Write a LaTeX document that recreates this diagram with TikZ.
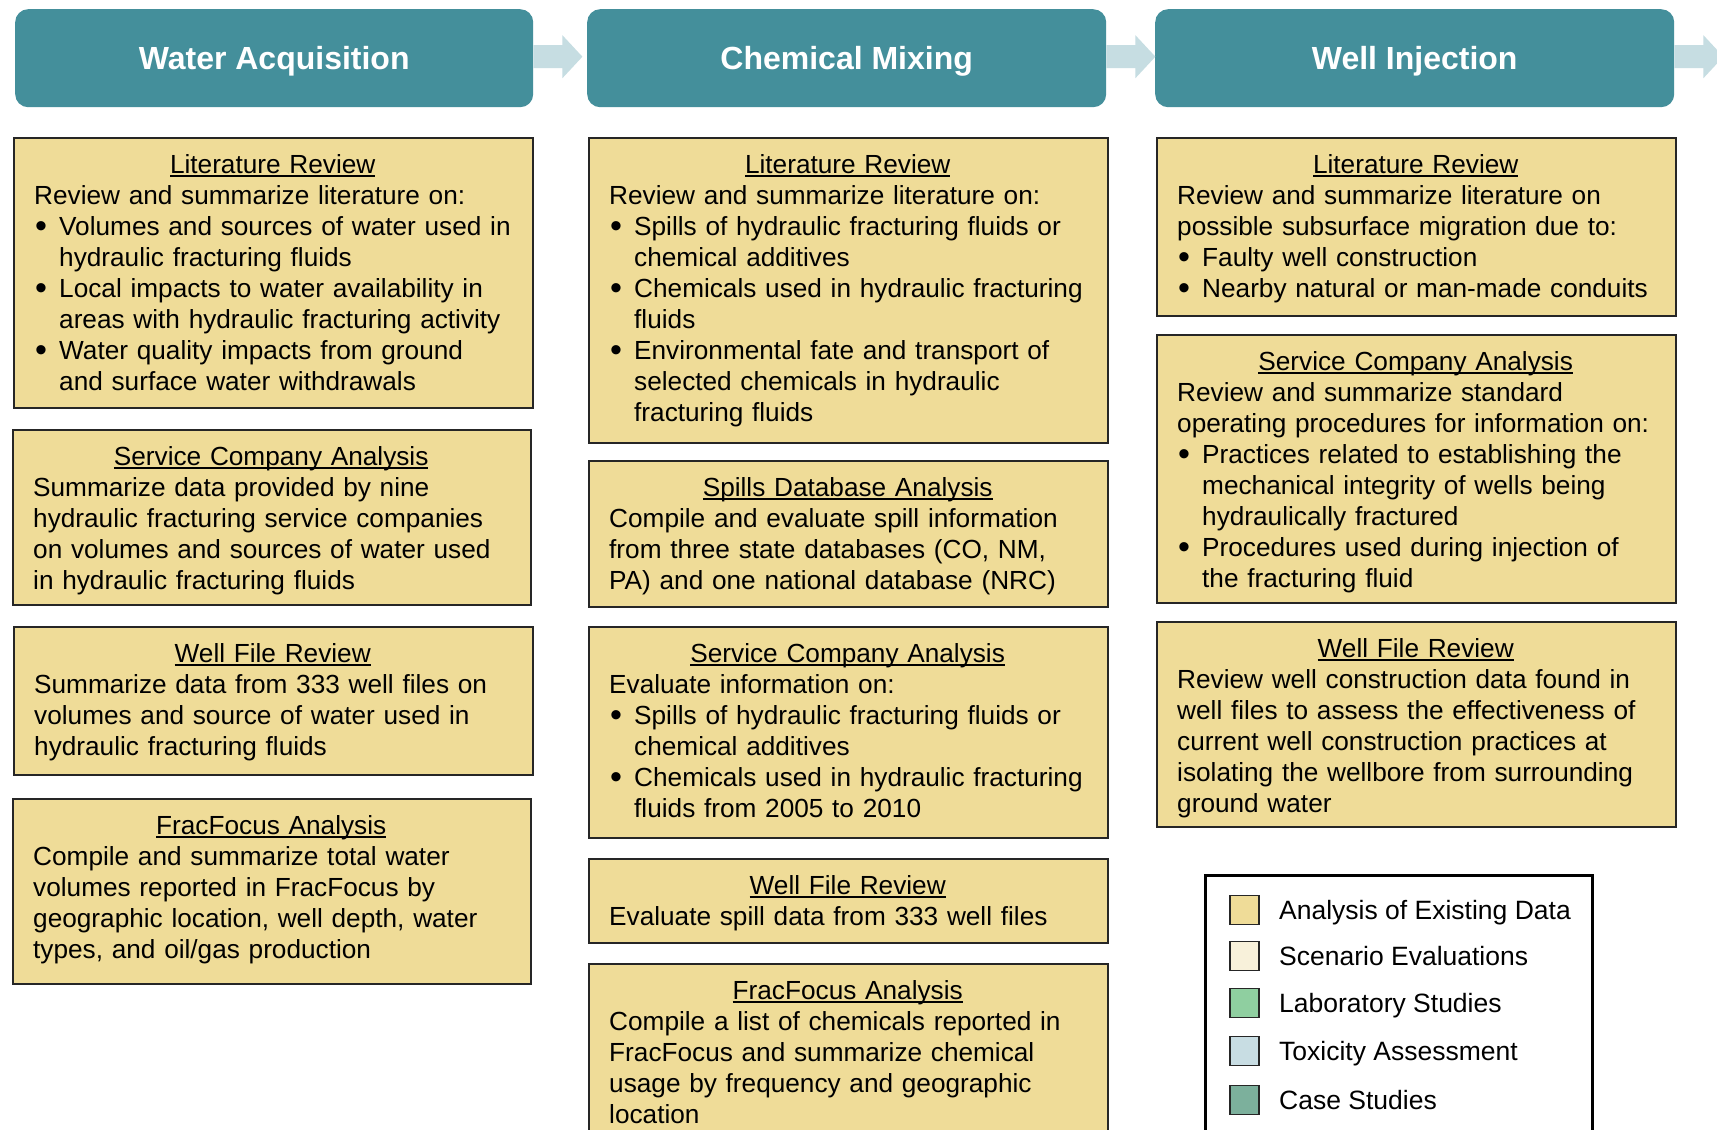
\documentclass[tikz,border=0pt]{standalone}
\usepackage{fontspec}
\setmainfont{Liberation Sans}
\usetikzlibrary{calc}
\definecolor{headc}{HTML}{448F9B}
\definecolor{arrowc}{HTML}{C6DDE2}
\definecolor{boxc}{HTML}{EFDC98}
\definecolor{scenc}{HTML}{F8F1DA}
\definecolor{labc}{HTML}{8FCFA0}
\definecolor{toxc}{HTML}{C8DDE3}
\definecolor{casec}{HTML}{7CB09C}
\newcommand\myul[1]{\setbox0\hbox{#1}\rlap{\rule[-3.5pt]{\wd0}{1.6pt}}\strut\box0}
\newcommand\ttl[1]{\par\hbox to\hsize{\hss\myul{#1}\hss}}
\newcommand\li[1]{\par\hbox{\strut#1}}
\newcommand\bi[1]{\par\hbox{\strut\makebox[25pt][l]{\hspace{1pt}\raisebox{-2.6pt}{\scalebox{1.3}{\textbullet}}}#1}}
\newcommand\bc[1]{\par\hbox{\strut\hspace{25pt}#1}}
\tikzset{
  head/.style={fill=headc, rounded corners=13pt, text=white, inner sep=0pt,
    font=\fontsize{32}{38}\selectfont\bfseries, minimum height=98pt,
    text height=23pt, text depth=0pt, anchor=north west},
  bx/.style={draw=black!85, line width=1.6pt, fill=boxc, inner sep=0pt, anchor=north west},
  txt/.style={inner sep=0pt, anchor=north west, font=\fontsize{26.2}{31}\selectfont},
  arr/.style={fill=arrowc},
  sq/.style={draw=black!85, line width=1.5pt, minimum width=29pt, minimum height=29pt, inner sep=0pt},
  lg/.style={inner sep=0pt, anchor=base west, font=\fontsize{26.5}{31}\selectfont}
}
\begin{document}
\begin{tikzpicture}[x=1pt,y=-1pt]
\useasboundingbox (0,0) rectangle (1717,1130);
\fill[white] (0,0) rectangle (1717,1130);
% headers
\node[head, minimum width=518pt] (h1) at (15,9) {Water Acquisition};
\node[head, minimum width=519pt] (h2) at (587,9) {Chemical Mixing};
\node[head, minimum width=519pt] (h3) at (1155,9) {Well Injection};
\foreach \h in {h1,h2,h3}{
  \fill[arr] ($(\h.east)+(0,-13)$) -- ++(29,0) -- ++(0,-10) -- ++(20,21.5) -- ++(-20,21.5) -- ++(0,-10) -- ++(-29,0) -- cycle;
}
% column 1
\node[bx, minimum width=519pt, minimum height=270pt] (b1a) at (13,137) {};
\node[txt, text width=477pt] (t1a) at ($(b1a.north west)+(21,5)$) {%
\ttl{Literature Review}
\li{Review and summarize literature on:}
\bi{Volumes and sources of water used in}
\bc{hydraulic fracturing fluids}
\bi{Local impacts to water availability in}
\bc{areas with hydraulic fracturing activity}
\bi{Water quality impacts from ground}
\bc{and surface water withdrawals}};
\node[bx, minimum width=518pt, minimum height=175pt] (b1b) at (12,429) {};
\node[txt, text width=476pt] (t1b) at ($(b1b.north west)+(21,5)$) {%
\ttl{Service Company Analysis}
\li{Summarize data provided by nine}
\li{hydraulic fracturing service companies}
\li{on volumes and sources of water used}
\li{in hydraulic fracturing fluids}};
\node[bx, minimum width=519pt, minimum height=148pt] (b1c) at (13,626) {};
\node[txt, text width=477pt] (t1c) at ($(b1c.north west)+(21,5)$) {%
\ttl{Well File Review}
\li{Summarize data from 333 well files on}
\li{volumes and source of water used in}
\li{hydraulic fracturing fluids}};
\node[bx, minimum width=518pt, minimum height=185pt] (b1d) at (12,798) {};
\node[txt, text width=476pt] (t1d) at ($(b1d.north west)+(21,5)$) {%
\ttl{FracFocus Analysis}
\li{Compile and summarize total water}
\li{volumes reported in FracFocus by}
\li{geographic location, well depth, water}
\li{types, and oil/gas production}};
% column 2
\node[bx, minimum width=519pt, minimum height=305pt] (b2a) at (588,137) {};
\node[txt, text width=477pt] (t2a) at ($(b2a.north west)+(21,5)$) {%
\ttl{Literature Review}
\li{Review and summarize literature on:}
\bi{Spills of hydraulic fracturing fluids or}
\bc{chemical additives}
\bi{Chemicals used in hydraulic fracturing}
\bc{fluids}
\bi{Environmental fate and transport of}
\bc{selected chemicals in hydraulic}
\bc{fracturing fluids}};
\node[bx, minimum width=519pt, minimum height=146pt] (b2b) at (588,460) {};
\node[txt, text width=477pt] (t2b) at ($(b2b.north west)+(21,5)$) {%
\ttl{Spills Database Analysis}
\li{Compile and evaluate spill information}
\li{from three state databases (CO, NM,}
\li{PA) and one national database (NRC)}};
\node[bx, minimum width=519pt, minimum height=211pt] (b2c) at (588,626) {};
\node[txt, text width=477pt] (t2c) at ($(b2c.north west)+(21,5)$) {%
\ttl{Service Company Analysis}
\li{Evaluate information on:}
\bi{Spills of hydraulic fracturing fluids or}
\bc{chemical additives}
\bi{Chemicals used in hydraulic fracturing}
\bc{fluids from 2005 to 2010}};
\node[bx, minimum width=519pt, minimum height=84pt] (b2d) at (588,858) {};
\node[txt, text width=477pt] (t2d) at ($(b2d.north west)+(21,5)$) {%
\ttl{Well File Review}
\li{Evaluate spill data from 333 well files}};
\node[bx, minimum width=519pt, minimum height=190pt] (b2e) at (588,963) {};
\node[txt, text width=477pt] (t2e) at ($(b2e.north west)+(21,5)$) {%
\ttl{FracFocus Analysis}
\li{Compile a list of chemicals reported in}
\li{FracFocus and summarize chemical}
\li{usage by frequency and geographic}
\li{location}};
% column 3
\node[bx, minimum width=519pt, minimum height=178pt] (b3a) at (1156,137) {};
\node[txt, text width=477pt] (t3a) at ($(b3a.north west)+(21,5)$) {%
\ttl{Literature Review}
\li{Review and summarize literature on}
\li{possible subsurface migration due to:}
\bi{Faulty well construction}
\bi{Nearby natural or man-made conduits}};
\node[bx, minimum width=519pt, minimum height=268pt] (b3b) at (1156,334) {};
\node[txt, text width=477pt] (t3b) at ($(b3b.north west)+(21,5)$) {%
\ttl{Service Company Analysis}
\li{Review and summarize standard}
\li{operating procedures for information on:}
\bi{Practices related to establishing the}
\bc{mechanical integrity of wells being}
\bc{hydraulically fractured}
\bi{Procedures used during injection of}
\bc{the fracturing fluid}};
\node[bx, minimum width=519pt, minimum height=205pt] (b3c) at (1156,621) {};
\node[txt, text width=477pt] (t3c) at ($(b3c.north west)+(21,5)$) {%
\ttl{Well File Review}
\li{Review well construction data found in}
\li{well files to assess the effectiveness of}
\li{current well construction practices at}
\li{isolating the wellbore from surrounding}
\li{ground water}};
% legend
\node[draw=black, line width=3.6pt, fill=white, inner sep=0pt, anchor=north west,
  minimum width=387pt, minimum height=280pt] (leg) at (1203.5,873.5) {};
\node[sq, fill=boxc]  (s1) at (1244.5,910) {};
\node[sq, fill=scenc] (s2) at (1244.5,956) {};
\node[sq, fill=labc]  (s3) at (1244.5,1003) {};
\node[sq, fill=toxc]  (s4) at (1244.5,1051) {};
\node[sq, fill=casec] (s5) at (1244.5,1100) {};
\node[lg] (l1) at (1279,919.5) {Analysis of Existing Data};
\node[lg] (l2) at (1279,965.5) {Scenario Evaluations};
\node[lg] (l3) at (1279,1012.5) {Laboratory Studies};
\node[lg] (l4) at (1279,1060.5) {Toxicity Assessment};
\node[lg] (l5) at (1279,1109.5) {Case Studies};
\end{tikzpicture}
\end{document}
